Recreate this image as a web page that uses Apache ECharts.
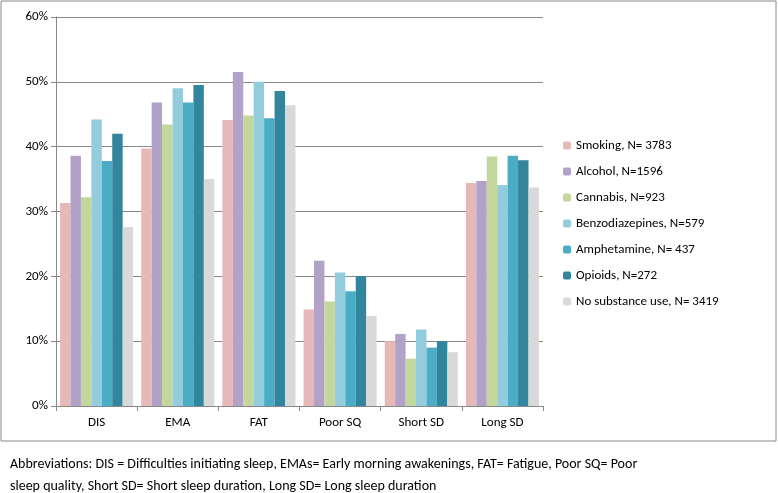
<!DOCTYPE html>
<html>
<head>
<meta charset="utf-8">
<script src="https://cdn.jsdelivr.net/npm/echarts@6/dist/echarts.min.js"></script>
<style>body{margin:0;background:#fff}#main{width:778px;height:493px}</style>
</head>
<body>
<div id="main"></div>
<script>
const categories = ['DIS', 'EMA', 'FAT', 'Poor SQ', 'Short SD', 'Long SD'];
const seriesNames = ['Smoking, N= 3783', 'Alcohol, N=1596', 'Cannabis, N=923', 'Benzodiazepines, N=579', 'Amphetamine, N= 437', 'Opioids, N=272', 'No substance use, N= 3419'];
const colors = ['#E6B9B8', '#B3A2C7', '#C3D69B', '#93CDDD', '#4BACC6', '#31859C', '#D9D9D9'];
const smoking = [31.3, 39.7, 44.1, 14.9, 10.0, 34.4];
const alcohol = [38.6, 46.8, 51.5, 22.4, 11.1, 34.7];
const cannabis = [32.2, 43.4, 44.8, 16.1, 7.3, 38.5];
const benzo = [44.2, 49.0, 50.0, 20.6, 11.8, 34.1];
const amphetamine = [37.8, 46.8, 44.4, 17.7, 9.0, 38.6];
const opioids = [42.0, 49.5, 48.6, 20.0, 10.0, 37.9];
const noSubstance = [27.6, 35.0, 46.4, 13.9, 8.3, 33.7];
const allData = [smoking, alcohol, cannabis, benzo, amphetamine, opioids, noSubstance];

const myChart = echarts.init(document.getElementById('main'));
const font = 'Calibri, Carlito, "Liberation Sans", sans-serif';

const option = {
  animation: false,
  textStyle: { fontFamily: font },
  grid: { left: 56, right: 235, top: 17, bottom: 87, containLabel: false },
  legend: {
    orient: 'vertical',
    left: 558,
    top: 134,
    itemGap: 13,
    itemWidth: 8,
    itemHeight: 8,
    textStyle: { fontSize: 13, color: '#000', fontFamily: font },
    data: seriesNames,
  },
  xAxis: {
    type: 'category',
    data: categories,
    axisLine: { lineStyle: { color: '#888' } },
    axisTick: { show: true, lineStyle: { color: '#888' } },
    axisLabel: { color: '#000', fontSize: 13, margin: 10 },
  },
  yAxis: {
    type: 'value',
    min: 0,
    max: 60,
    interval: 10,
    axisLine: { show: true, lineStyle: { color: '#888' } },
    axisTick: { show: true, lineStyle: { color: '#888' } },
    axisLabel: { formatter: '{value}%', color: '#000', fontSize: 13 },
    splitLine: { lineStyle: { color: '#888' } },
  },
  series: seriesNames.map((name, i) => ({
    name: name,
    type: 'bar',
    data: allData[i],
    itemStyle: { color: colors[i] },
    barGap: '0%',
    barCategoryGap: '10%',
  })),
  graphic: [
    {
      type: 'rect',
      shape: { x: 1, y: 1, width: 775, height: 440 },
      style: { fill: null, stroke: '#888', lineWidth: 1 },
      silent: true,
    },
    {
      type: 'text',
      left: 10,
      top: 453,
      style: {
        text: 'Abbreviations: DIS = Difficulties initiating sleep, EMAs= Early morning awakenings, FAT= Fatigue, Poor SQ= Poor\nsleep quality, Short SD= Short sleep duration, Long SD= Long sleep duration',
        font: '14px ' + font,
        lineHeight: 22,
        fill: '#000',
      },
    },
  ],
};

myChart.setOption(option);
</script>
</body>
</html>
